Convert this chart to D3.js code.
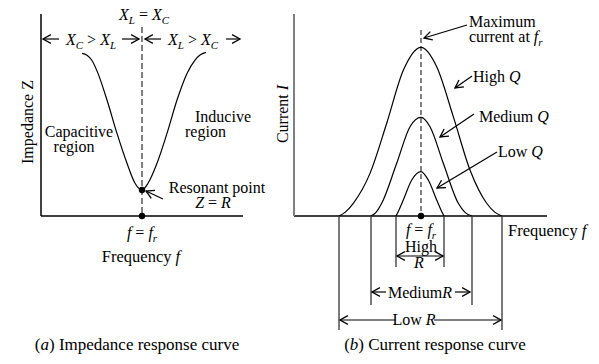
<!DOCTYPE html>
<html><head><meta charset="utf-8">
<script src="https://cdn.jsdelivr.net/npm/d3@7"></script>
<style>
html,body{margin:0;padding:0;background:#fff;}
</style></head>
<body>
<svg id="c" width="599" height="364"></svg>
<script>
// ---- Data ----
// (a) impedance curve: frequency relative to f_r, impedance (arbitrary units 0..100)
const impFreq = [-60, -55, -50, -44, -35, -25, -15, -7, 0, 6, 15, 25, 35, 45, 53, 58, 64];
const impZ    = [80.5, 79.6, 77, 70.6, 57.4, 40.9, 26.1, 16.2, 12.9, 16.2, 26.1, 40.9, 57.4, 70.6, 77.2, 79.7, 81];
const resonantZ = 12.9;

// (b) current curves: frequency relative to f_r, current (arbitrary units 0..100)
const highQFreq = [-82, -76, -67.7, -51, -34.3, -17.7, 0, 15.7, 32.3, 49, 65.7, 74, 81];
const highQI    = [0, 1.8, 6.3, 21.1, 45.9, 72.1, 83.5, 73.9, 49.2, 22.8, 6.3, 1.8, 0];
const medQFreq  = [-50, -45, -39.3, -24.3, -11, 0, 9, 22.3, 37.3, 44, 51];
const medQI     = [0, 1.8, 6.3, 26.1, 44.2, 48.8, 44.2, 26.1, 6.3, 1.8, 0];
const lowQFreq  = [-25, -22, -17.7, -9.3, 0, 7.3, 15.7, 20, 23];
const lowQI     = [0, 3, 7.9, 17.8, 22, 17.8, 7.9, 3, 0];

// bandwidth edges (relative freq) for High R, Medium R, Low R
const bandNames = ["High R", "Medium R", "Low R"];
const bandLow   = [-25, -50, -82];
const bandHigh  = [23, 51, 81];

// ---- Drawing ----
const svg = d3.select("#c");
const FONT = "'Liberation Serif', 'DejaVu Serif', serif";
svg.attr("font-family", FONT).attr("font-size", 16);

const xL = d3.scaleLinear().domain([-101, 101]).range([41, 243]);
const yL = d3.scaleLinear().domain([0, 100]).range([216, 14]);
const xR = d3.scaleLinear().domain([-127, 126]).range([294, 547]);
const yR = d3.scaleLinear().domain([0, 100]).range([216, 14]);

function arrowHead(g, x, y, ang, color) {
  const L = 9, a = 0.5;
  const p = d3.path();
  p.moveTo(x - L * Math.cos(ang - a), y - L * Math.sin(ang - a));
  p.lineTo(x, y);
  p.lineTo(x - L * Math.cos(ang + a), y - L * Math.sin(ang + a));
  g.append("path").attr("d", p.toString()).attr("fill", "none")
    .attr("stroke", color || "#000").attr("stroke-width", 1.3);
}
function arrow(g, x1, y1, x2, y2, color) {
  g.append("line").attr("x1", x1).attr("y1", y1).attr("x2", x2).attr("y2", y2)
    .attr("stroke", color || "#000").attr("stroke-width", 1.2);
  arrowHead(g, x2, y2, Math.atan2(y2 - y1, x2 - x1), color);
}
function seg(g, x1, y1, x2, y2, color, w) {
  g.append("line").attr("x1", x1).attr("y1", y1).attr("x2", x2).attr("y2", y2)
    .attr("stroke", color || "#000").attr("stroke-width", w || 1.2);
}
function rich(g, x, y, parts, anchor, size) {
  const t = g.append("text").attr("x", x).attr("y", y).attr("text-anchor", anchor || "start")
    .attr("font-family", FONT).attr("font-size", size || 16);
  parts.forEach(p => {
    const s = t.append("tspan").text(p.t);
    if (p.i) s.attr("font-style", "italic");
    if (p.sub) s.attr("font-size", "11px").attr("dy", 4);
    if (p.up) s.attr("dy", -4);
  });
  return t;
}
function txt(g, x, y, s, anchor) {
  return g.append("text").attr("x", x).attr("y", y).attr("text-anchor", anchor || "start")
    .attr("font-family", FONT).attr("font-size", 16).text(s);
}

// ===== Panel (a) =====
const gA = svg.append("g");
seg(gA, xL.range()[0], yL(0), xL.range()[1], yL(0), "#000", 1.5);
seg(gA, xL.range()[0], yL(0), xL.range()[0], yL(100), "#000", 1.5);
gA.append("line").attr("x1", xL(0)).attr("x2", xL(0)).attr("y1", 27).attr("y2", yL(0))
  .attr("stroke", "#808080").attr("stroke-width", 2).attr("stroke-dasharray", "6,3");
const lineA = d3.line().x((d, i) => xL(impFreq[i])).y((d, i) => yL(impZ[i])).curve(d3.curveMonotoneX);
gA.append("path").attr("d", lineA(impFreq)).attr("fill", "none").attr("stroke", "#000").attr("stroke-width", 1.2);
gA.append("circle").attr("cx", xL(0)).attr("cy", yL(resonantZ)).attr("r", 3.2);
gA.append("circle").attr("cx", xL(0)).attr("cy", yL(0)).attr("r", 3.2);
rich(gA, 144, 20, [{t:"X", i:1},{t:"L", i:1, sub:1},{t:" = ", up:1},{t:"X", i:1},{t:"C", i:1, sub:1}], "middle");
const ay = 39;
arrowHead(gA, 43, ay, Math.PI); seg(gA, 43, ay, 59, ay);
rich(gA, 91, 45, [{t:"X", i:1},{t:"C", i:1, sub:1},{t:" > ", up:1},{t:"X", i:1},{t:"L", i:1, sub:1}], "middle");
seg(gA, 122, ay, 139, ay); arrowHead(gA, 139, ay, 0);
arrowHead(gA, 145, ay, Math.PI); seg(gA, 145, ay, 161, ay);
rich(gA, 193, 45, [{t:"X", i:1},{t:"L", i:1, sub:1},{t:" > ", up:1},{t:"X", i:1},{t:"C", i:1, sub:1}], "middle");
seg(gA, 226, ay, 240, ay); arrowHead(gA, 240, ay, 0);
txt(gA, 79, 137, "Capacitive", "middle");
txt(gA, 74, 152, "region", "middle");
txt(gA, 195, 122, "Inducive");
txt(gA, 185, 137, "region");
txt(gA, 217, 193, "Resonant point", "middle");
rich(gA, 213, 208, [{t:"Z", i:1},{t:" = "},{t:"R", i:1}], "middle");
arrow(gA, 163, 199, 146, 191);
rich(gA, 142, 238, [{t:"f", i:1},{t:" = "},{t:"f", i:1},{t:"r", i:1, sub:1}], "middle");
rich(gA, 141, 262, [{t:"Frequency "},{t:"f", i:1}], "middle", 16.5);
txt(gA, 0, 0, "Impedance Z", "middle").attr("x", null).attr("y", null)
  .attr("transform", "translate(33,122) rotate(-90)");
rich(gA, 137, 350, [{t:"("},{t:"a", i:1},{t:") Impedance response curve"}], "middle", 17);

// ===== Panel (b) =====
const gB = svg.append("g");
seg(gB, xR.range()[0], yR(0), xR.range()[1], yR(0), "#000", 1.5);
seg(gB, xR.range()[0], yR(0), xR.range()[0], yR(100), "#808080", 2);
gB.append("line").attr("x1", xR(0)).attr("x2", xR(0)).attr("y1", 30).attr("y2", yR(0))
  .attr("stroke", "#333").attr("stroke-width", 1.2).attr("stroke-dasharray", "5,3");
const mk = (fx, iy) => d3.line().x((d, i) => xR(fx[i])).y((d, i) => yR(iy[i])).curve(d3.curveMonotoneX)(fx);
[[highQFreq, highQI], [medQFreq, medQI], [lowQFreq, lowQI]].forEach(([fx, iy]) => {
  gB.append("path").attr("d", mk(fx, iy)).attr("fill", "none").attr("stroke", "#000").attr("stroke-width", 1.2);
});
gB.append("circle").attr("cx", xR(0)).attr("cy", yR(0)).attr("r", 3.2);

const bandBottom = [267, 305, 330];
bandNames.forEach((n, i) => {
  seg(gB, xR(bandLow[i]), yR(0), xR(bandLow[i]), bandBottom[i], "#333", 1.3);
  seg(gB, xR(bandHigh[i]), yR(0), xR(bandHigh[i]), bandBottom[i], "#333", 1.3);
});
const hy = 256;
arrowHead(gB, xR(bandLow[0]) + 1, hy, Math.PI); arrowHead(gB, xR(bandHigh[0]) - 1, hy, 0);
seg(gB, xR(bandLow[0]) + 1, hy, xR(bandHigh[0]) - 1, hy);
txt(gB, 421, 252, "High", "middle");
rich(gB, 419, 268, [{t:"R", i:1}], "middle");
const my = 292;
arrowHead(gB, xR(bandLow[1]) + 1, my, Math.PI); seg(gB, xR(bandLow[1]) + 1, my, 386, my);
rich(gB, 420, 298, [{t:"Medium"},{t:"R", i:1}], "middle");
seg(gB, 455, my, xR(bandHigh[1]) - 2, my); arrowHead(gB, xR(bandHigh[1]) - 2, my, 0);
const ly = 320;
arrowHead(gB, xR(bandLow[2]) + 1, ly, Math.PI); seg(gB, xR(bandLow[2]) + 1, ly, 395, ly);
rich(gB, 414, 325, [{t:"Low "},{t:"R", i:1}], "middle");
seg(gB, 434, ly, xR(bandHigh[2]) - 1, ly); arrowHead(gB, xR(bandHigh[2]) - 1, ly, 0);

rich(gB, 421, 235, [{t:"f", i:1},{t:" = "},{t:"f", i:1},{t:"r", i:1, sub:1}], "middle");
rich(gB, 508, 236, [{t:"Frequency "},{t:"f", i:1}], "start", 16.5);
rich(gB, 0, 0, [{t:"Current "},{t:"I", i:1}], "middle").attr("x", null).attr("y", null)
  .attr("transform", "translate(288,114) rotate(-90)");

txt(gB, 469, 27, "Maximum");
rich(gB, 469, 42, [{t:"current at "},{t:"f", i:1},{t:"r", i:1, sub:1}]);
arrow(gB, 467, 25, 424, 38);
rich(gB, 473, 82, [{t:"High "},{t:"Q", i:1}]);
arrow(gB, 472, 76, 455, 88);
rich(gB, 479, 122, [{t:"Medium "},{t:"Q", i:1}]);
arrow(gB, 474, 114, 440, 137);
rich(gB, 498, 157, [{t:"Low "},{t:"Q", i:1}]);
arrow(gB, 497, 152, 437, 188);

rich(gB, 435, 350, [{t:"("},{t:"b", i:1},{t:") Current response curve"}], "middle", 17);
</script>
</body></html>
